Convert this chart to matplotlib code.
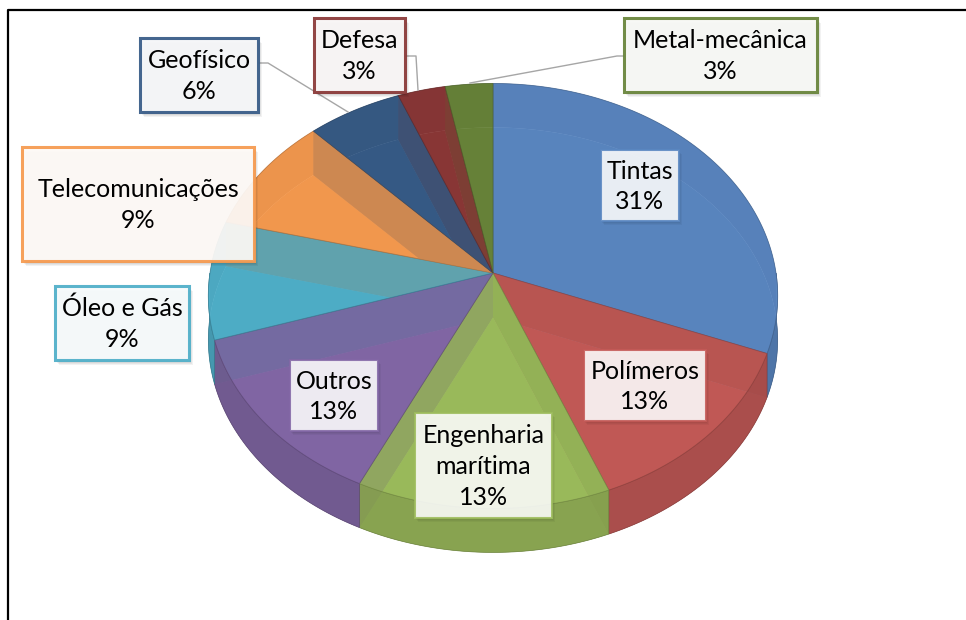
import numpy as np
import matplotlib.pyplot as plt
from matplotlib.patches import Polygon, Rectangle
from matplotlib.colors import to_rgb

# dados do gráfico (percentual por setor)
setores = ['Tintas', 'Polímeros', 'Engenharia\nmarítima', 'Outros', 'Óleo e Gás',
           'Telecomunicações', 'Geofísico', 'Defesa', 'Metal-mecânica']
percentuais = [31, 13, 13, 13, 9, 9, 6, 3, 3]
cores = ['#5A87C1', '#C45A57', '#9DBC5C', '#8367A6', '#4FAFC9',
         '#F69A4F', '#375B87', '#8A3837', '#68843A']

# caixas dos rótulos: x0, y0, x1, y1 (pixels) e se ficam fora da pizza
caixas = [
    (601, 150, 679, 221, False),
    (584, 350, 706, 421, False),
    (415, 413, 552, 518, False),
    (290, 360, 378, 431, False),
    (55, 286, 189, 360, True),
    (22, 147, 254, 261, True),
    (140, 38, 258, 112, True),
    (314, 18, 405, 92, True),
    (624, 18, 817, 92, True),
]
# linhas guia (cinza) para os rótulos pequenos
guias = [
    ([259, 268, 348], [63, 63, 112]),
    ([406, 416, 418], [56, 56, 90]),
    ([624, 617, 470], [56, 56, 83]),
]

# geometria da pizza 3D (perspectiva simples)
CX, CY = 493, 273
RX, RY = 283, 210
K = 0.108
PROF = 44


def proj(theta, r=1.0, z=0.0):
    t = np.radians(theta)
    X, Y = r * np.cos(t), r * np.sin(t)
    w = 1 + K * Y
    return np.column_stack([CX + RX * X / w, CY - RY * Y / w + z * PROF])


def arco(a, b, z=0.0):
    n = max(int(abs(b - a) * 2), 2)
    return proj(np.linspace(a, b, n), 1.0, z)


def tom(c, f):
    return tuple(np.clip(np.array(to_rgb(c)) * f, 0, 1))


def corta(lo, hi, a, b):
    l, h = max(lo, a), min(hi, b)
    return (l, h) if h > l else None


fig = plt.figure(figsize=(9.66, 6.2), dpi=100)
ax = fig.add_axes([0, 0, 1, 1])
ax.set_xlim(0, 966)
ax.set_ylim(620, 0)
ax.axis('off')

# moldura
ax.plot([8, 8, 966], [622, 10, 10], color='black', lw=1.6, zorder=1,
        solid_capstyle='butt')

fr = np.array(percentuais) / sum(percentuais)
fim = 90 - 360 * np.cumsum(fr)
ini = fim + 360 * fr
centro = proj(np.array([0.0]), 0.0)
centro_b = proj(np.array([0.0]), 0.0, 1.0)

paredes = []
for i, c in enumerate(cores):
    lo, hi = fim[i], ini[i]
    # fundo
    pts = np.vstack([centro_b, arco(hi, lo, 1.0)])
    ax.add_patch(Polygon(pts, closed=True, fc=tom(c, 0.78), ec='none', zorder=2))
    # parede externa de trás
    for faixa in (corta(lo, hi, 0, 180), corta(lo, hi, -360, -180)):
        if faixa:
            pts = np.vstack([arco(faixa[1], faixa[0]), arco(faixa[0], faixa[1], 1.0)])
            ax.add_patch(Polygon(pts, closed=True, fc=tom(c, 0.7), ec='none', zorder=3))
    paredes.append((hi, c))
    paredes.append((lo, c))

# paredes radiais, das mais distantes para as mais próximas
paredes.sort(key=lambda p: -np.sin(np.radians(p[0])))
for k, (a, c) in enumerate(paredes):
    pts = np.vstack([proj(np.array([a]), 0.0), proj(np.array([a]), 1.0),
                     proj(np.array([a]), 1.0, 1.0), proj(np.array([a]), 0.0, 1.0)])
    ax.add_patch(Polygon(pts, closed=True, fc=tom(c, 0.6), ec='none',
                         zorder=4 + k * 0.01))

for i, c in enumerate(cores):
    lo, hi = fim[i], ini[i]
    # parede externa da frente
    faixa = corta(lo, hi, -180, 0)
    if faixa:
        pts = np.vstack([arco(faixa[1], faixa[0]), arco(faixa[0], faixa[1], 1.0)])
        ax.add_patch(Polygon(pts, closed=True, fc=tom(c, 0.88), ec=tom(c, 0.7),
                             lw=0.5, alpha=0.92, zorder=5))
    # face de cima
    pts = np.vstack([centro, arco(hi, lo)])
    ax.add_patch(Polygon(pts, closed=True, fc=tom(c, 1.04), ec=tom(c, 0.75),
                         lw=0.6, alpha=0.78, zorder=6))

# linhas guia
for gx, gy in guias:
    ax.plot(gx, gy, color='#A6A6A6', lw=1.0, zorder=7)

# rótulos
for i, (x0, y0, x1, y1, fora) in enumerate(caixas):
    c = cores[i]
    w, h = x1 - x0, y1 - y0
    if fora:
        for s in range(1, 5):
            ax.add_patch(Rectangle((x0 + s, y0 + s + 1), w, h, fc='black', ec='none',
                                   alpha=0.05, zorder=8))
        fundo = tuple(0.96 + 0.04 * np.array(to_rgb(c)))
        ax.add_patch(Rectangle((x0, y0), w, h, fc=fundo, ec=c, lw=2.2,
                               alpha=0.93, zorder=9))
    else:
        for s in range(1, 4):
            ax.add_patch(Rectangle((x0 + s, y0 + s + 1), w, h, fc='black', ec='none',
                                   alpha=0.04, zorder=8))
        ax.add_patch(Rectangle((x0, y0), w, h, fc='white', ec=c, lw=1.5,
                               alpha=0.88, zorder=9))
    texto = f'{setores[i]}\n{percentuais[i]}%'
    ax.text((x0 + x1) / 2, (y0 + y1) / 2 + 1, texto, ha='center', va='center',
            fontsize=18, family='Lato', color='black', linespacing=1.42, zorder=10)

plt.savefig('out.png', dpi=100)
